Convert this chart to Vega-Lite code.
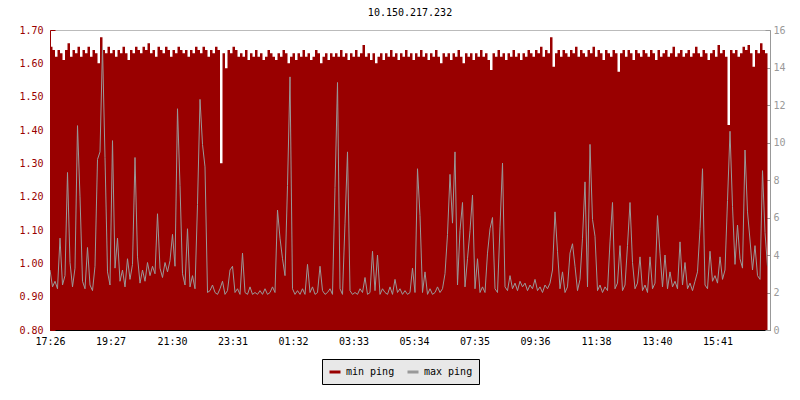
{
  "$schema": "https://vega.github.io/schema/vega-lite/v6.json",
  "width": 720,
  "height": 300,
  "autosize": "none",
  "padding": {"left": 50, "top": 30, "right": 30, "bottom": 70},
  "background": "white",
  "title": {"text": "10.150.217.232", "font": "DejaVu Sans Mono", "fontSize": 10, "fontWeight": "normal", "color": "black", "offset": 7, "anchor": "middle"},
  "config": {
    "view": {"stroke": "#bbbbbb"},
    "axis": {"labelFont": "DejaVu Sans Mono", "labelFontSize": 10, "grid": false, "title": null},
    "legend": {"labelFont": "DejaVu Sans Mono", "labelFontSize": 10}
  },
  "data": {"values": [
{"t":"2024-01-01T17:26","a":1.65,"b":3.2},{"t":"2024-01-01T17:31","a":1.64,"b":2.3},{"t":"2024-01-01T17:36","a":1.62,"b":2.6},{"t":"2024-01-01T17:41","a":1.64,"b":2.2},{"t":"2024-01-01T17:46","a":1.63,"b":4.9},{"t":"2024-01-01T17:51","a":1.61,"b":2.4},{"t":"2024-01-01T17:56","a":1.64,"b":2.9},{"t":"2024-01-01T18:01","a":1.66,"b":8.4},{"t":"2024-01-01T18:06","a":1.62,"b":3.6},{"t":"2024-01-01T18:11","a":1.64,"b":2.3},{"t":"2024-01-01T18:16","a":1.63,"b":3.3},{"t":"2024-01-01T18:21","a":1.65,"b":10.9},
{"t":"2024-01-01T18:26","a":1.62,"b":7.1},{"t":"2024-01-01T18:31","a":1.64,"b":2.6},{"t":"2024-01-01T18:36","a":1.63,"b":2.2},{"t":"2024-01-01T18:41","a":1.65,"b":4.4},{"t":"2024-01-01T18:46","a":1.62,"b":2.4},{"t":"2024-01-01T18:51","a":1.64,"b":2.1},{"t":"2024-01-01T18:56","a":1.63,"b":3.4},{"t":"2024-01-01T19:01","a":1.60,"b":9.1},{"t":"2024-01-01T19:06","a":1.678,"b":9.5},{"t":"2024-01-01T19:11","a":1.64,"b":15.1},{"t":"2024-01-01T19:16","a":1.63,"b":9.2},{"t":"2024-01-01T19:21","a":1.65,"b":3.1},
{"t":"2024-01-01T19:26","a":1.63,"b":2.4},{"t":"2024-01-01T19:31","a":1.64,"b":10.1},{"t":"2024-01-01T19:36","a":1.62,"b":3.3},{"t":"2024-01-01T19:41","a":1.64,"b":4.9},{"t":"2024-01-01T19:46","a":1.63,"b":2.6},{"t":"2024-01-01T19:51","a":1.65,"b":3.2},{"t":"2024-01-01T19:56","a":1.63,"b":2.3},{"t":"2024-01-01T20:01","a":1.61,"b":3.8},{"t":"2024-01-01T20:06","a":1.64,"b":2.7},{"t":"2024-01-01T20:11","a":1.63,"b":3.5},{"t":"2024-01-01T20:16","a":1.65,"b":9.2},{"t":"2024-01-01T20:21","a":1.64,"b":3.9},
{"t":"2024-01-01T20:26","a":1.63,"b":2.5},{"t":"2024-01-01T20:31","a":1.65,"b":3.2},{"t":"2024-01-01T20:36","a":1.64,"b":2.6},{"t":"2024-01-01T20:41","a":1.66,"b":3.6},{"t":"2024-01-01T20:46","a":1.63,"b":2.9},{"t":"2024-01-01T20:51","a":1.64,"b":3.4},{"t":"2024-01-01T20:56","a":1.62,"b":3.0},{"t":"2024-01-01T21:01","a":1.65,"b":6.2},{"t":"2024-01-01T21:06","a":1.64,"b":3.3},{"t":"2024-01-01T21:11","a":1.63,"b":2.8},{"t":"2024-01-01T21:16","a":1.65,"b":3.6},{"t":"2024-01-01T21:21","a":1.64,"b":3.1},
{"t":"2024-01-01T21:26","a":1.62,"b":3.7},{"t":"2024-01-01T21:31","a":1.64,"b":5.1},{"t":"2024-01-01T21:36","a":1.63,"b":3.4},{"t":"2024-01-01T21:41","a":1.65,"b":11.8},{"t":"2024-01-01T21:46","a":1.64,"b":7.7},{"t":"2024-01-01T21:51","a":1.63,"b":3.0},{"t":"2024-01-01T21:56","a":1.64,"b":2.4},{"t":"2024-01-01T22:01","a":1.62,"b":5.4},{"t":"2024-01-01T22:06","a":1.64,"b":2.3},{"t":"2024-01-01T22:11","a":1.63,"b":2.9},{"t":"2024-01-01T22:16","a":1.65,"b":2.2},{"t":"2024-01-01T22:21","a":1.64,"b":6.7},
{"t":"2024-01-01T22:26","a":1.63,"b":12.3},{"t":"2024-01-01T22:31","a":1.65,"b":9.9},{"t":"2024-01-01T22:36","a":1.64,"b":8.7},{"t":"2024-01-01T22:41","a":1.62,"b":2.0},{"t":"2024-01-01T22:46","a":1.64,"b":2.1},{"t":"2024-01-01T22:51","a":1.63,"b":2.4},{"t":"2024-01-01T22:56","a":1.65,"b":2.0},{"t":"2024-01-01T23:01","a":1.64,"b":1.9},{"t":"2024-01-01T23:06","a":1.30,"b":2.2},{"t":"2024-01-01T23:11","a":1.63,"b":2.6},{"t":"2024-01-01T23:16","a":1.585,"b":1.9},{"t":"2024-01-01T23:21","a":1.64,"b":2.1},
{"t":"2024-01-01T23:26","a":1.63,"b":3.2},{"t":"2024-01-01T23:31","a":1.65,"b":3.4},{"t":"2024-01-01T23:36","a":1.64,"b":2.0},{"t":"2024-01-01T23:41","a":1.62,"b":2.2},{"t":"2024-01-01T23:46","a":1.63,"b":1.9},{"t":"2024-01-01T23:51","a":1.62,"b":4.1},{"t":"2024-01-01T23:56","a":1.64,"b":2.0},{"t":"2024-01-02T00:01","a":1.61,"b":1.9},{"t":"2024-01-02T00:06","a":1.63,"b":2.3},{"t":"2024-01-02T00:11","a":1.62,"b":1.9},{"t":"2024-01-02T00:16","a":1.64,"b":2.0},{"t":"2024-01-02T00:21","a":1.62,"b":1.9},
{"t":"2024-01-02T00:26","a":1.63,"b":2.1},{"t":"2024-01-02T00:31","a":1.61,"b":1.9},{"t":"2024-01-02T00:36","a":1.62,"b":2.2},{"t":"2024-01-02T00:41","a":1.64,"b":1.9},{"t":"2024-01-02T00:46","a":1.63,"b":2.0},{"t":"2024-01-02T00:51","a":1.62,"b":2.3},{"t":"2024-01-02T00:56","a":1.61,"b":2.0},{"t":"2024-01-02T01:01","a":1.63,"b":6.4},{"t":"2024-01-02T01:06","a":1.62,"b":4.9},{"t":"2024-01-02T01:11","a":1.64,"b":3.8},{"t":"2024-01-02T01:16","a":1.63,"b":2.9},{"t":"2024-01-02T01:21","a":1.60,"b":7.7},
{"t":"2024-01-02T01:26","a":1.62,"b":13.5},{"t":"2024-01-02T01:31","a":1.63,"b":2.2},{"t":"2024-01-02T01:36","a":1.61,"b":1.9},{"t":"2024-01-02T01:41","a":1.63,"b":2.1},{"t":"2024-01-02T01:46","a":1.62,"b":1.9},{"t":"2024-01-02T01:51","a":1.64,"b":2.2},{"t":"2024-01-02T01:56","a":1.62,"b":1.9},{"t":"2024-01-02T02:01","a":1.63,"b":3.5},{"t":"2024-01-02T02:06","a":1.61,"b":2.0},{"t":"2024-01-02T02:11","a":1.62,"b":2.3},{"t":"2024-01-02T02:16","a":1.64,"b":1.9},{"t":"2024-01-02T02:21","a":1.63,"b":2.0},
{"t":"2024-01-02T02:26","a":1.60,"b":3.4},{"t":"2024-01-02T02:31","a":1.62,"b":2.1},{"t":"2024-01-02T02:36","a":1.63,"b":1.9},{"t":"2024-01-02T02:41","a":1.61,"b":2.0},{"t":"2024-01-02T02:46","a":1.63,"b":2.2},{"t":"2024-01-02T02:51","a":1.62,"b":1.9},{"t":"2024-01-02T02:56","a":1.63,"b":7.6},{"t":"2024-01-02T03:01","a":1.62,"b":13.2},{"t":"2024-01-02T03:06","a":1.64,"b":2.2},{"t":"2024-01-02T03:11","a":1.62,"b":1.9},{"t":"2024-01-02T03:16","a":1.63,"b":5.7},{"t":"2024-01-02T03:21","a":1.61,"b":9.5},
{"t":"2024-01-02T03:26","a":1.63,"b":2.1},{"t":"2024-01-02T03:31","a":1.62,"b":1.9},{"t":"2024-01-02T03:36","a":1.64,"b":2.0},{"t":"2024-01-02T03:41","a":1.62,"b":1.9},{"t":"2024-01-02T03:46","a":1.63,"b":2.2},{"t":"2024-01-02T03:51","a":1.655,"b":2.0},{"t":"2024-01-02T03:56","a":1.62,"b":2.8},{"t":"2024-01-02T04:01","a":1.63,"b":1.9},{"t":"2024-01-02T04:06","a":1.61,"b":2.0},{"t":"2024-01-02T04:11","a":1.63,"b":4.2},{"t":"2024-01-02T04:16","a":1.60,"b":2.1},{"t":"2024-01-02T04:21","a":1.62,"b":4.0},
{"t":"2024-01-02T04:26","a":1.63,"b":1.9},{"t":"2024-01-02T04:31","a":1.61,"b":2.2},{"t":"2024-01-02T04:36","a":1.63,"b":2.0},{"t":"2024-01-02T04:41","a":1.62,"b":1.9},{"t":"2024-01-02T04:46","a":1.64,"b":2.3},{"t":"2024-01-02T04:51","a":1.62,"b":1.9},{"t":"2024-01-02T04:56","a":1.63,"b":2.7},{"t":"2024-01-02T05:01","a":1.61,"b":2.0},{"t":"2024-01-02T05:06","a":1.63,"b":2.2},{"t":"2024-01-02T05:11","a":1.62,"b":1.9},{"t":"2024-01-02T05:16","a":1.64,"b":2.1},{"t":"2024-01-02T05:21","a":1.62,"b":1.9},
{"t":"2024-01-02T05:26","a":1.63,"b":2.0},{"t":"2024-01-02T05:31","a":1.61,"b":3.3},{"t":"2024-01-02T05:36","a":1.63,"b":2.0},{"t":"2024-01-02T05:41","a":1.62,"b":8.6},{"t":"2024-01-02T05:46","a":1.64,"b":6.1},{"t":"2024-01-02T05:51","a":1.62,"b":2.0},{"t":"2024-01-02T05:56","a":1.63,"b":3.1},{"t":"2024-01-02T06:01","a":1.61,"b":1.9},{"t":"2024-01-02T06:06","a":1.63,"b":2.2},{"t":"2024-01-02T06:11","a":1.62,"b":1.9},{"t":"2024-01-02T06:16","a":1.64,"b":2.0},{"t":"2024-01-02T06:21","a":1.62,"b":2.3},
{"t":"2024-01-02T06:26","a":1.60,"b":2.0},{"t":"2024-01-02T06:31","a":1.63,"b":2.2},{"t":"2024-01-02T06:36","a":1.62,"b":3.0},{"t":"2024-01-02T06:41","a":1.63,"b":5.1},{"t":"2024-01-02T06:46","a":1.61,"b":8.3},{"t":"2024-01-02T06:51","a":1.63,"b":5.7},{"t":"2024-01-02T06:56","a":1.62,"b":9.5},{"t":"2024-01-02T07:01","a":1.64,"b":2.4},{"t":"2024-01-02T07:06","a":1.62,"b":5.3},{"t":"2024-01-02T07:11","a":1.60,"b":6.8},{"t":"2024-01-02T07:16","a":1.63,"b":2.3},{"t":"2024-01-02T07:21","a":1.62,"b":3.8},
{"t":"2024-01-02T07:26","a":1.63,"b":5.3},{"t":"2024-01-02T07:31","a":1.61,"b":7.2},{"t":"2024-01-02T07:36","a":1.63,"b":2.2},{"t":"2024-01-02T07:41","a":1.62,"b":3.8},{"t":"2024-01-02T07:46","a":1.64,"b":2.0},{"t":"2024-01-02T07:51","a":1.62,"b":2.3},{"t":"2024-01-02T07:56","a":1.63,"b":2.0},{"t":"2024-01-02T08:01","a":1.61,"b":4.1},{"t":"2024-01-02T08:06","a":1.58,"b":5.4},{"t":"2024-01-02T08:11","a":1.63,"b":6.0},{"t":"2024-01-02T08:16","a":1.62,"b":2.2},{"t":"2024-01-02T08:21","a":1.64,"b":2.0},
{"t":"2024-01-02T08:26","a":1.62,"b":5.5},{"t":"2024-01-02T08:31","a":1.63,"b":8.9},{"t":"2024-01-02T08:36","a":1.61,"b":2.3},{"t":"2024-01-02T08:41","a":1.63,"b":2.1},{"t":"2024-01-02T08:46","a":1.62,"b":2.9},{"t":"2024-01-02T08:51","a":1.64,"b":2.2},{"t":"2024-01-02T08:56","a":1.62,"b":2.5},{"t":"2024-01-02T09:01","a":1.63,"b":2.1},{"t":"2024-01-02T09:06","a":1.61,"b":2.6},{"t":"2024-01-02T09:11","a":1.63,"b":2.3},{"t":"2024-01-02T09:16","a":1.62,"b":2.5},{"t":"2024-01-02T09:21","a":1.64,"b":2.1},
{"t":"2024-01-02T09:26","a":1.63,"b":2.4},{"t":"2024-01-02T09:31","a":1.62,"b":2.2},{"t":"2024-01-02T09:36","a":1.64,"b":2.7},{"t":"2024-01-02T09:41","a":1.63,"b":2.1},{"t":"2024-01-02T09:46","a":1.65,"b":2.3},{"t":"2024-01-02T09:51","a":1.62,"b":2.0},{"t":"2024-01-02T09:56","a":1.64,"b":2.4},{"t":"2024-01-02T10:01","a":1.63,"b":2.2},{"t":"2024-01-02T10:06","a":1.678,"b":2.5},{"t":"2024-01-02T10:11","a":1.59,"b":3.2},{"t":"2024-01-02T10:16","a":1.63,"b":6.3},{"t":"2024-01-02T10:21","a":1.64,"b":4.2},
{"t":"2024-01-02T10:26","a":1.62,"b":2.2},{"t":"2024-01-02T10:31","a":1.64,"b":3.1},{"t":"2024-01-02T10:36","a":1.63,"b":2.0},{"t":"2024-01-02T10:41","a":1.62,"b":2.3},{"t":"2024-01-02T10:46","a":1.64,"b":4.1},{"t":"2024-01-02T10:51","a":1.63,"b":4.6},{"t":"2024-01-02T10:56","a":1.65,"b":3.4},{"t":"2024-01-02T11:01","a":1.62,"b":2.1},{"t":"2024-01-02T11:06","a":1.64,"b":2.7},{"t":"2024-01-02T11:11","a":1.63,"b":4.9},{"t":"2024-01-02T11:16","a":1.62,"b":7.9},{"t":"2024-01-02T11:21","a":1.64,"b":2.3},
{"t":"2024-01-02T11:26","a":1.63,"b":9.9},{"t":"2024-01-02T11:31","a":1.65,"b":5.9},{"t":"2024-01-02T11:36","a":1.62,"b":5.0},{"t":"2024-01-02T11:41","a":1.64,"b":2.1},{"t":"2024-01-02T11:46","a":1.63,"b":2.4},{"t":"2024-01-02T11:51","a":1.61,"b":2.0},{"t":"2024-01-02T11:56","a":1.64,"b":2.3},{"t":"2024-01-02T12:01","a":1.63,"b":2.1},{"t":"2024-01-02T12:06","a":1.62,"b":4.7},{"t":"2024-01-02T12:11","a":1.64,"b":6.8},{"t":"2024-01-02T12:16","a":1.63,"b":2.2},{"t":"2024-01-02T12:21","a":1.575,"b":2.5},
{"t":"2024-01-02T12:26","a":1.63,"b":4.5},{"t":"2024-01-02T12:31","a":1.64,"b":2.1},{"t":"2024-01-02T12:36","a":1.62,"b":2.4},{"t":"2024-01-02T12:41","a":1.64,"b":4.5},{"t":"2024-01-02T12:46","a":1.63,"b":6.8},{"t":"2024-01-02T12:51","a":1.61,"b":3.6},{"t":"2024-01-02T12:56","a":1.64,"b":2.2},{"t":"2024-01-02T13:01","a":1.63,"b":2.5},{"t":"2024-01-02T13:06","a":1.62,"b":3.9},{"t":"2024-01-02T13:11","a":1.64,"b":2.1},{"t":"2024-01-02T13:16","a":1.63,"b":2.4},{"t":"2024-01-02T13:21","a":1.62,"b":2.0},
{"t":"2024-01-02T13:26","a":1.64,"b":3.9},{"t":"2024-01-02T13:31","a":1.63,"b":2.2},{"t":"2024-01-02T13:36","a":1.61,"b":2.5},{"t":"2024-01-02T13:41","a":1.64,"b":6.1},{"t":"2024-01-02T13:46","a":1.62,"b":4.1},{"t":"2024-01-02T13:51","a":1.63,"b":2.3},{"t":"2024-01-02T13:56","a":1.64,"b":4.0},{"t":"2024-01-02T14:01","a":1.62,"b":2.2},{"t":"2024-01-02T14:06","a":1.63,"b":3.1},{"t":"2024-01-02T14:11","a":1.65,"b":2.3},{"t":"2024-01-02T14:16","a":1.62,"b":2.6},{"t":"2024-01-02T14:21","a":1.63,"b":2.2},
{"t":"2024-01-02T14:26","a":1.64,"b":4.7},{"t":"2024-01-02T14:31","a":1.62,"b":2.4},{"t":"2024-01-02T14:36","a":1.63,"b":3.6},{"t":"2024-01-02T14:41","a":1.64,"b":2.2},{"t":"2024-01-02T14:46","a":1.62,"b":2.5},{"t":"2024-01-02T14:51","a":1.63,"b":2.1},{"t":"2024-01-02T14:56","a":1.65,"b":2.6},{"t":"2024-01-02T15:01","a":1.63,"b":3.1},{"t":"2024-01-02T15:06","a":1.62,"b":5.4},{"t":"2024-01-02T15:11","a":1.64,"b":8.6},{"t":"2024-01-02T15:16","a":1.63,"b":2.4},{"t":"2024-01-02T15:21","a":1.61,"b":2.2},
{"t":"2024-01-02T15:26","a":1.63,"b":4.2},{"t":"2024-01-02T15:31","a":1.64,"b":2.6},{"t":"2024-01-02T15:36","a":1.62,"b":2.9},{"t":"2024-01-02T15:41","a":1.655,"b":2.5},{"t":"2024-01-02T15:46","a":1.63,"b":3.9},{"t":"2024-01-02T15:51","a":1.64,"b":2.7},{"t":"2024-01-02T15:56","a":1.62,"b":3.2},{"t":"2024-01-02T16:01","a":1.415,"b":6.9},{"t":"2024-01-02T16:06","a":1.64,"b":10.6},{"t":"2024-01-02T16:11","a":1.63,"b":6.6},{"t":"2024-01-02T16:16","a":1.64,"b":3.5},{"t":"2024-01-02T16:21","a":1.62,"b":5.6},
{"t":"2024-01-02T16:26","a":1.63,"b":3.8},{"t":"2024-01-02T16:31","a":1.65,"b":3.3},{"t":"2024-01-02T16:36","a":1.64,"b":9.6},{"t":"2024-01-02T16:41","a":1.655,"b":6.3},{"t":"2024-01-02T16:46","a":1.63,"b":4.8},{"t":"2024-01-02T16:51","a":1.59,"b":3.2},{"t":"2024-01-02T16:56","a":1.64,"b":4.5},{"t":"2024-01-02T17:01","a":1.63,"b":2.9},{"t":"2024-01-02T17:06","a":1.66,"b":2.7},{"t":"2024-01-02T17:11","a":1.64,"b":8.5},{"t":"2024-01-02T17:16","a":1.63,"b":5.2},{"t":"2024-01-02T17:21","a":1.65,"b":3.4}
  ]},
  "encoding": {
    "x": {
      "field": "t", "type": "temporal",
      "scale": {"domain": [{"year": 2024, "month": 1, "date": 1, "hours": 17, "minutes": 26}, {"year": 2024, "month": 1, "date": 2, "hours": 17, "minutes": 26}], "nice": false},
      "axis": {
        "format": "%H:%M", "labelColor": "black", "domainColor": "black", "tickColor": "black", "tickSize": -5, "labelPadding": 11, "labelFlush": false, "labelOverlap": false,
        "values": [
          {"year": 2024, "month": 1, "date": 1, "hours": 17, "minutes": 26},
          {"year": 2024, "month": 1, "date": 1, "hours": 19, "minutes": 27},
          {"year": 2024, "month": 1, "date": 1, "hours": 21, "minutes": 30},
          {"year": 2024, "month": 1, "date": 1, "hours": 23, "minutes": 31},
          {"year": 2024, "month": 1, "date": 2, "hours": 1, "minutes": 32},
          {"year": 2024, "month": 1, "date": 2, "hours": 3, "minutes": 33},
          {"year": 2024, "month": 1, "date": 2, "hours": 5, "minutes": 34},
          {"year": 2024, "month": 1, "date": 2, "hours": 7, "minutes": 35},
          {"year": 2024, "month": 1, "date": 2, "hours": 9, "minutes": 36},
          {"year": 2024, "month": 1, "date": 2, "hours": 11, "minutes": 38},
          {"year": 2024, "month": 1, "date": 2, "hours": 13, "minutes": 40},
          {"year": 2024, "month": 1, "date": 2, "hours": 15, "minutes": 41}
        ]
      }
    }
  },
  "layer": [
    {
      "mark": {"type": "area", "interpolate": "step-after", "clip": true},
      "encoding": {
        "y": {"field": "a", "type": "quantitative", "scale": {"domain": [0.8, 1.7], "nice": false, "zero": false},
          "axis": {"orient": "left", "values": [0.8, 0.9, 1.0, 1.1, 1.2, 1.3, 1.4, 1.5, 1.6, 1.7], "format": ".2f", "labelColor": "#990000", "domainColor": "#990000", "tickColor": "#990000", "tickSize": -5, "labelPadding": 12}},
        "color": {"datum": "min ping", "type": "nominal",
          "scale": {"domain": ["min ping", "max ping"], "range": ["#990000", "#999999"]},
          "legend": {"title": null, "orient": "none", "legendX": 272, "legendY": 329, "direction": "horizontal",
            "symbolType": "stroke", "symbolSize": 121, "symbolStrokeWidth": 3, "labelOffset": 4, "columnPadding": 6,
            "padding": 6, "fillColor": "#e8e8e8", "strokeColor": "black", "labelColor": "black",
            "encode": {"symbols": {"update": {"stroke": {"scale": "color", "field": "value"}, "fill": {"value": "transparent"}}}}}}
      }
    },
    {
      "mark": {"type": "line", "interpolate": "linear", "strokeWidth": 1, "clip": true},
      "encoding": {
        "y": {"field": "b", "type": "quantitative", "scale": {"domain": [0, 16], "nice": false, "zero": false},
          "axis": {"orient": "right", "values": [0, 2, 4, 6, 8, 10, 12, 14, 16], "labelColor": "#999999", "domainColor": "#999999", "tickColor": "#999999", "tickSize": -5, "labelPadding": 8}},
        "color": {"datum": "max ping", "type": "nominal"}
      }
    }
  ],
  "resolve": {"scale": {"y": "independent"}}
}
